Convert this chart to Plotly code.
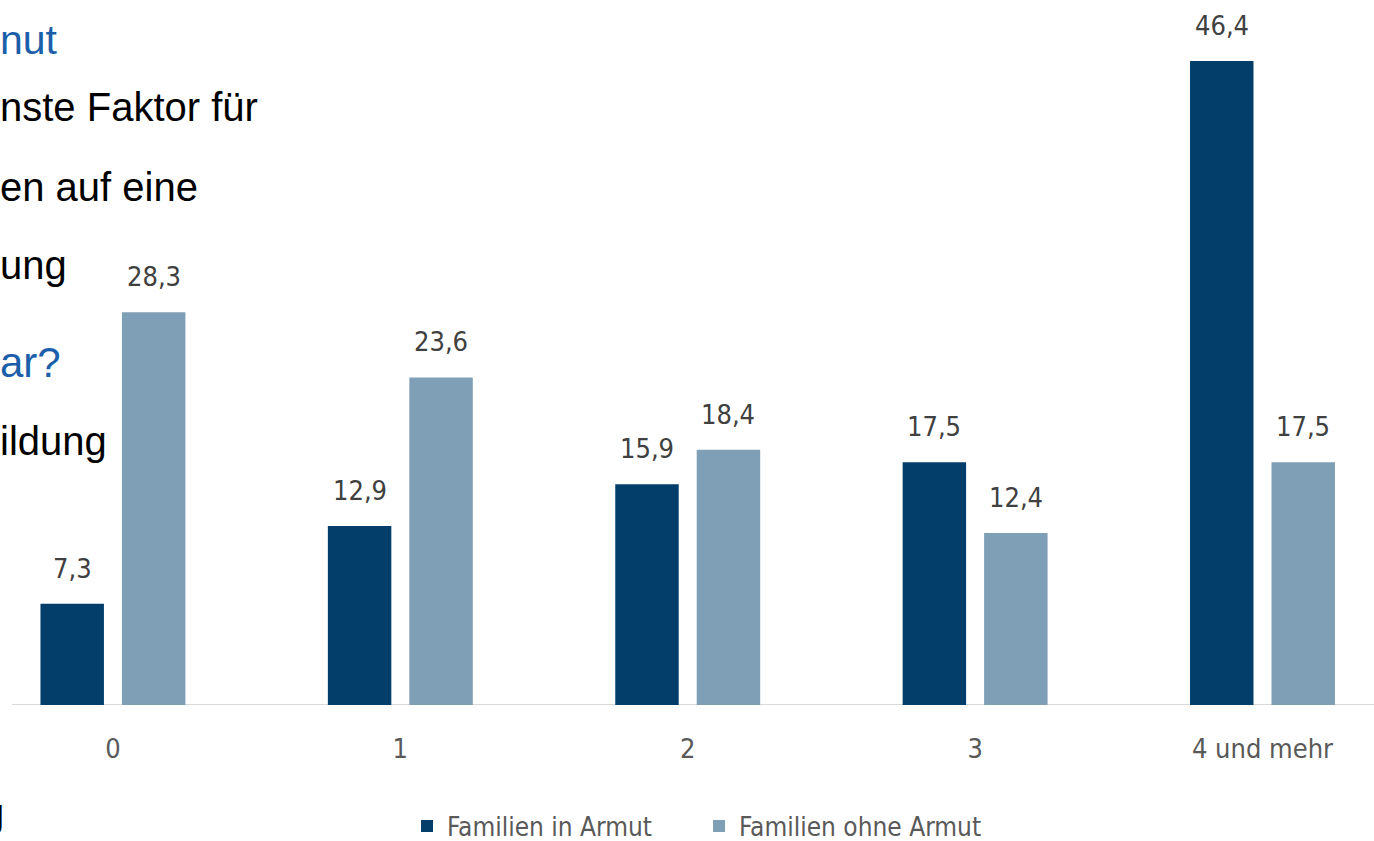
import plotly.graph_objects as go

# ---- data ----
categories = ["0", "1", "2", "3", "4 und mehr"]
familien_in_armut = [7.3, 12.9, 15.9, 17.5, 46.4]
familien_ohne_armut = [28.3, 23.6, 18.4, 12.4, 17.5]
series_names = ["Familien in Armut", "Familien ohne Armut"]

# slide text fragments visible at the left edge (cut off in the screenshot)
side_texts = ["nut", "nste Faktor für", "en auf eine", "ung", "ar?", "ildung", "g"]

# ---- style ----
W, H = 1374, 841
DARK = "#033E6B"
LIGHT = "#7F9FB7"
LABEL_GRAY = "#404040"
AXIS_GRAY = "#595959"
NARROW = "Liberation Sans Narrow, DejaVu Sans Condensed, Arial Narrow, sans-serif"
ARIAL = "Liberation Sans, Arial, Helvetica, sans-serif"
BLUE_TXT = "#1B5FAA"

def px(x):
    return x / W

def py(y):
    return 1 - y / H

fig = go.Figure()
fig.add_trace(go.Bar(x=categories, y=familien_in_armut, name=series_names[0],
                     marker=dict(color=DARK, line=dict(width=0))))
fig.add_trace(go.Bar(x=categories, y=familien_ohne_armut, name=series_names[1],
                     marker=dict(color=LIGHT, line=dict(width=0))))

annotations = []
# value labels above bars
for vals, shift in ((familien_in_armut, -40.75), (familien_ohne_armut, 40.75)):
    for c, v in zip(categories, vals):
        annotations.append(dict(
            x=c, y=v, xref="x", yref="y", xshift=shift, yshift=18,
            text=f"{v:.1f}".replace(".", ","), showarrow=False,
            yanchor="bottom", xanchor="center",
            font=dict(family=NARROW, size=27, color=LABEL_GRAY)))

# slide text fragments (anchor x, anchor side, baseline y, size, colour)
side_layout = [
    (0, "left", 54, 41, BLUE_TXT),
    (0, "left", 121, 40, "#000000"),
    (0, "left", 201, 40, "#000000"),
    (0, "left", 279, 40, "#000000"),
    (0, "left", 377, 42, BLUE_TXT),
    (0, "left", 455, 40, "#000000"),
    (5.6, "right", 827, 40, "#000000"),
]
for t, (xa, side, base, size, col) in zip(side_texts, side_layout):
    annotations.append(dict(
        x=px(xa), y=py(base - 0.35 * size), xref="paper", yref="paper",
        xshift=-2 if side == "left" else 0,
        text=t, showarrow=False, xanchor=side, yanchor="middle",
        font=dict(family=ARIAL, size=size, color=col)))

fig.update_layout(
    width=W, height=H,
    margin=dict(l=0, r=0, t=0, b=0, autoexpand=False),
    paper_bgcolor="white", plot_bgcolor="white",
    barmode="group", bargap=0.433, bargroupgap=0.221,
    showlegend=True,
    legend=dict(orientation="h", x=px(407), xanchor="left",
                y=py(826), yanchor="middle",
                font=dict(family=NARROW, size=26, color=AXIS_GRAY),
                entrywidth=247, entrywidthmode="pixels",
                bgcolor="rgba(0,0,0,0)", itemclick=False),
    xaxis=dict(domain=[0, 1], range=[-0.393, 4.388], showgrid=False,
               zeroline=False, showline=False,
               ticks="outside", ticklen=20, tickcolor="rgba(0,0,0,0)",
               tickfont=dict(family=NARROW, size=27, color=AXIS_GRAY)),
    yaxis=dict(domain=[1 - 705 / H, 1], range=[0, 50.8], visible=False,
               showgrid=False, zeroline=False),
    annotations=annotations,
    shapes=[dict(type="line", xref="paper", yref="y", x0=px(12), x1=1,
                 y0=0, y1=0, line=dict(color="#D9D9D9", width=2), layer="below")],
)

fig.write_html("out.html")
